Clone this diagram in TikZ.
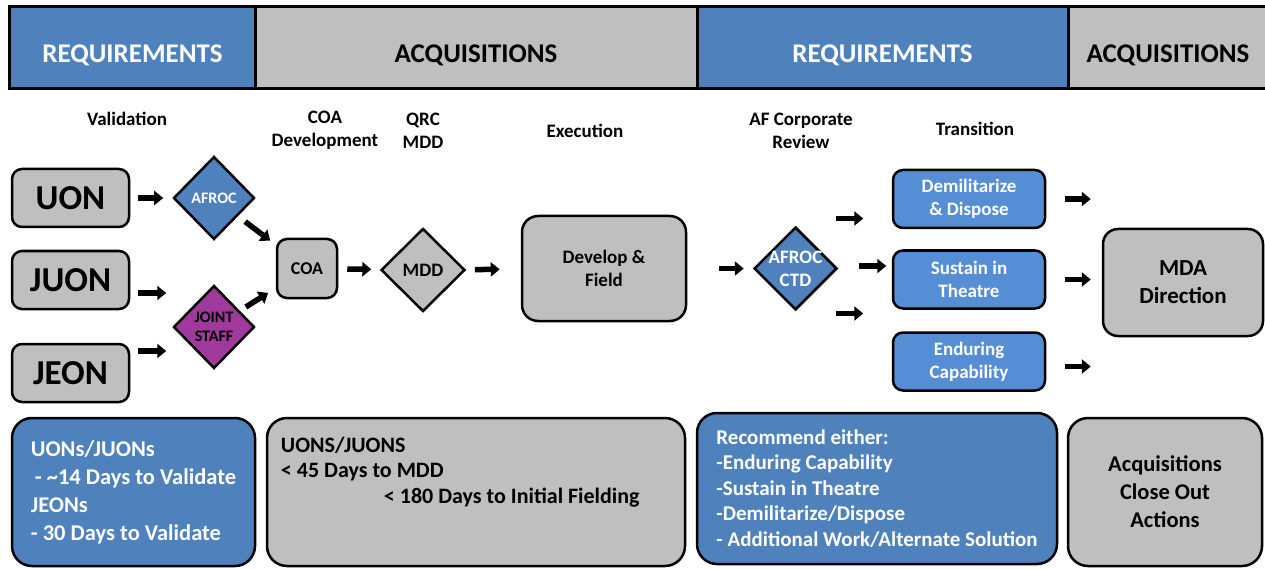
\documentclass[tikz,border=0pt]{standalone}
\usepackage{fontspec}
\setmainfont{Carlito}
\usetikzlibrary{shapes.geometric,arrows.meta}
\definecolor{reqblue}{HTML}{4F81BD}
\definecolor{optblue}{HTML}{558ED5}
\definecolor{acqgrey}{HTML}{BFBFBF}
\definecolor{jspurple}{HTML}{A0399C}
\newcommand{\fsz}[2]{\fontsize{#1}{#2}\selectfont\bfseries}
\tikzset{
  hdr/.style={minimum height=81, inner sep=0pt, text height=31pt, text depth=0pt, font=\fsz{27}{32}},
  stage/.style={align=center, font=\fsz{19}{23}},
  box/.style={draw=black, line width=2.5pt, rounded corners=10pt, fill=acqgrey, align=center, inner sep=0pt},
  dia/.style={draw=black, line width=2.5pt, diamond, inner sep=0pt, minimum width=81, minimum height=83},
  dtext/.style={align=center, font=\fsz{16}{19}},
  note/.style={draw=black, line width=2.5pt, rounded corners=20pt, inner sep=0pt},
  fatarrow/.style={line width=5.5pt, -{Triangle[length=9pt,width=14pt]}},
}
\begin{document}
\begin{tikzpicture}[x=1pt,y=-1pt]
\useasboundingbox (0,0) rectangle (1265,569);
% header band
\node[hdr, fill=reqblue, text=white, minimum width=245] (hreqa) at (132.5,47.5) {REQUIREMENTS};
\node[hdr, fill=acqgrey, minimum width=442] (hacqa) at (476,47.5) {ACQUISITIONS};
\node[hdr, fill=reqblue, text=white, minimum width=371] (hreqb) at (882.5,47.5) {REQUIREMENTS};
\node[hdr, fill=acqgrey, minimum width=200] (hacqb) at (1168,47.5) {ACQUISITIONS};
\draw[line width=3pt] (hreqa.north west) rectangle (hacqb.south east);
\draw[line width=3pt] (hreqa.north east) -- (hreqa.south east);
\draw[line width=3pt] (hacqa.north east) -- (hacqa.south east);
\draw[line width=3pt] (hreqb.north east) -- (hreqb.south east);
% stage labels
\node[stage] (lval) at (127,119) {Validation};
\node[stage] (lcoa) at (325,130.5) {COA\\Development};
\node[stage] (lqrc) at (423,130.5) {QRC\\MDD};
\node[stage] (lexe) at (585,131) {Execution};
\node[stage] (lafc) at (801,130.5) {AF Corporate\\Review};
\node[stage] (ltra) at (975,129) {Transition};
% needs
\node[box, minimum width=117, minimum height=58, font=\fsz{35}{40}] (uon) at (70.5,198) {UON};
\node[box, minimum width=117, minimum height=58, font=\fsz{35}{40}] (juon) at (70.5,280) {JUON};
\node[box, minimum width=117, minimum height=58, font=\fsz{35}{40}] (jeon) at (70.5,373) {JEON};
% validation
\node[dia, fill=reqblue, label={[dtext,text=white]center:AFROC}] (afroc) at (214,198) {};
\node[dia, fill=jspurple, label={[dtext]center:{JOINT\\STAFF}}] (joint) at (214,327) {};
% acquisition
\node[box, minimum width=60, minimum height=59, font=\fsz{18}{22}] (coa) at (307,268.5) {COA};
\node[dia, fill=acqgrey, minimum width=84, label={[dtext,font=\fsz{19}{23}]center:MDD}] (mdd) at (423,270) {};
\node[box, rounded corners=16pt, minimum width=164, minimum height=105, font=\fsz{19}{23}] (devel) at (604,268.5) {Develop \&\\Field};
% corporate review and transition
\node[dia, fill=reqblue, minimum width=83, label={[dtext,text=white,font=\fsz{19}{23}]center:{AFROC\\CTD}}] (ctd) at (795.5,268.5) {};
\node[box, fill=optblue, text=white, minimum width=152, minimum height=58, font=\fsz{19}{23}] (demil) at (969,199) {Demilitarize\\\& Dispose};
\node[box, fill=optblue, text=white, minimum width=152, minimum height=58, font=\fsz{19}{23}] (sustain) at (969,279.5) {Sustain in\\Theatre};
\node[box, fill=optblue, text=white, minimum width=152, minimum height=58, font=\fsz{19}{23}] (endur) at (969,361.5) {Enduring\\Capability};
\node[box, rounded corners=15pt, minimum width=160, minimum height=107, font=\fsz{23}{28}] (mda) at (1183,282.5) {MDA\\Direction};
% arrows
\draw[fatarrow, shorten <=8pt, shorten >=9pt] (uon) -- (afroc);
\draw[fatarrow] ([shift={(8,13)}]juon.east) -- ++(28,0);
\draw[fatarrow] ([shift={(8,-22)}]jeon.east) -- ++(28,0);
\draw[fatarrow, shorten <=9pt, shorten >=7pt] (afroc) -- (coa);
\draw[fatarrow, shorten <=7pt, shorten >=9pt] (joint) -- (coa);
\draw[fatarrow, shorten <=9pt, shorten >=9pt] (coa) -- (mdd);
\draw[fatarrow, shorten <=9pt, shorten >=21pt] (mdd) -- (devel);
\draw[fatarrow, shorten <=32pt, shorten >=9pt] (devel) -- (ctd);
\draw[fatarrow] ([shift={(-2,-50)}]ctd.east) -- ++(27,0);
\draw[fatarrow] ([shift={(21,-2.5)}]ctd.east) -- ++(27,0);
\draw[fatarrow] ([shift={(-2,45)}]ctd.east) -- ++(27,0);
\draw[fatarrow, shorten <=19pt, shorten >=11pt] (demil.east) -- (demil.east -| mda.west);
\draw[fatarrow, shorten <=19pt, shorten >=11pt] (sustain.east) -- (sustain.east -| mda.west);
\draw[fatarrow, shorten <=19pt, shorten >=11pt] ([yshift=-5]endur.east) -- ([yshift=-5]endur.east -| mda.west);
% notes
\node[note, fill=reqblue, text=white, minimum width=243, minimum height=148, align=left, font=\fsz{22.5}{28}] (valnote) at (133.5,492) {UONs/JUONs\\\hspace*{4pt}- \textasciitilde14 Days to Validate\\JEONs\\- 30 Days to Validate};
\node[note, fill=acqgrey, minimum width=418, minimum height=148] (acqnote) at (476,492) {};
\node[anchor=north west, inner sep=0pt, align=left, font=\fsz{22}{25.5}] (acqtext) at ([shift={(15,20)}]acqnote.north west) {UONS/JUONS\\< 45 Days to MDD\\\hspace*{103pt}< 180 Days to Initial Fielding};
\node[note, fill=reqblue, text=white, minimum width=360, minimum height=151, align=left, font=\fsz{21}{25.5}] (recnote) at (877,488.5) {Recommend either:\\-Enduring Capability\\-Sustain in Theatre\\-Demilitarize/Dispose\\- Additional Work/Alternate Solution};
\node[note, fill=acqgrey, minimum width=194, minimum height=148, align=center, font=\fsz{22.5}{28}] (closenote) at (1165,492) {Acquisitions\\Close Out\\Actions};
\end{tikzpicture}
\end{document}
